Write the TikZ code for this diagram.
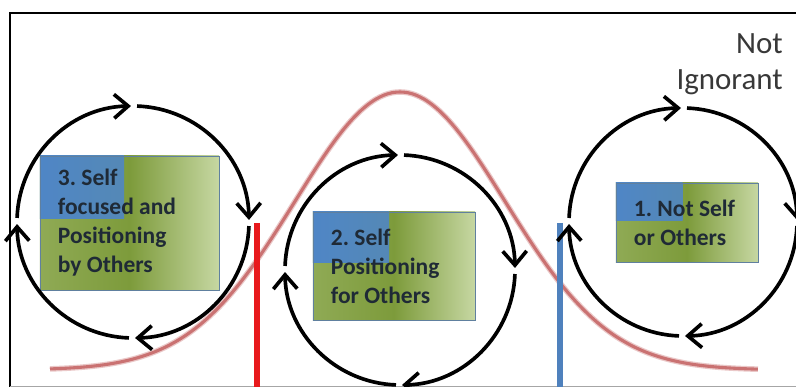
\documentclass[tikz,border=0pt]{standalone}
\usepackage{fontspec}
\setmainfont{Carlito}
\usepackage{tikz}
\usetikzlibrary{arrows.meta,calc}
\definecolor{boxblue}{HTML}{4F86C6}
\definecolor{boxolive}{HTML}{7D9B3B}
\definecolor{boxlight}{HTML}{C6D7A2}
\definecolor{boxedge}{HTML}{60809F}
\definecolor{textdark}{HTML}{1F2A36}
\definecolor{bellred}{HTML}{C46262}
\definecolor{cutred}{HTML}{E8191C}
\definecolor{cutblue}{HTML}{4F81BD}
\tikzstyle{stage} = [rectangle, draw=boxedge, line width=0.6pt, text=textdark, align=flush left, inner xsep=0.45cm, left color=boxolive!75!boxlight, right color=boxlight, middle color=boxolive, font=\frenchspacing\bfseries\fontsize{16.7}{20.6}\selectfont, path picture={\shade[left color=boxblue, right color=boxblue!75!boxolive] (path picture bounding box.north west) rectangle ($(path picture bounding box.north west)!0.47!(path picture bounding box.south east)$);}]
\tikzstyle{corner} = [align=right, inner sep=0pt, text=black!78, font=\fontsize{22}{26.2}\selectfont]
\tikzstyle{arrow} = [line width=2.6pt, ->, >={Straight Barb[length=10pt,width=17pt]}]
\tikzstyle{cut} = [line width=4.3pt]

\begin{document}
\begin{tikzpicture}[x=0.025cm, y=0.025cm]
\useasboundingbox (0,0) rectangle (796,387);

% frame
\draw [line width=1.8pt] (797,374) -- (10,374) -- (10,0);
\draw [black!35, line width=0.6pt] (10,1) -- (797,1);

% bell curve
\draw [bellred!35, line width=4pt] plot [domain=0.5:7.58, samples=90, smooth] ({\x*100},{17+278*exp(-((\x-4)^2)/2.205)});
\draw [bellred!90, line width=2.2pt] plot [domain=0.5:7.58, samples=90, smooth] ({\x*100},{17+278*exp(-((\x-4)^2)/2.205)});

\coordinate (redtop) at (257,164);
\coordinate (redfoot) at (257,0);
\coordinate (bluetop) at (560,164);
\coordinate (bluefoot) at (560,0);
\draw [cut, cutred] (redtop) -- (redfoot);
\draw [cut, cutblue] (bluetop) -- (bluefoot);

\node (selfby) [stage, minimum width=4.475cm, minimum height=3.35cm, text width=3.575cm] at (129.5,164) {3. Self\\focused and\\Positioning\\by Others};
\node (selffor) [stage, minimum width=4.05cm, minimum height=2.7cm, text width=3.15cm] at (394,121) {2. Self\\Positioning\\for Others};
\node (notself) [stage, minimum width=3.55cm, minimum height=1.975cm, text width=2.65cm] at (687,164.5) {1. Not Self\\or Others};

\node (notign) [corner, anchor=north east] at (783,354) {Not\\Ignorant};

\coordinate (ring3) at (133,165);
\coordinate (ring2) at (400,117);
\coordinate (ring1) at (683,165);

\draw [arrow] ([shift={(178:116)}]ring3) arc (178:91:116);
\draw [arrow] ([shift={(88:116)}]ring3) arc (88:1:116);
\draw [arrow] ([shift={(-2:116)}]ring3) arc (-2:-89:116);
\draw [arrow] ([shift={(-92:116)}]ring3) arc (-92:-179:116);

\draw [arrow] ([shift={(178:115)}]ring2) arc (178:91:115);
\draw [arrow] ([shift={(88:115)}]ring2) arc (88:1:115);
\draw [arrow] ([shift={(-2:115)}]ring2) arc (-2:-89:115);
\draw [arrow] ([shift={(-92:115)}]ring2) arc (-92:-179:115);

\draw [arrow] ([shift={(178:114)}]ring1) arc (178:91:114);
\draw [arrow] ([shift={(88:114)}]ring1) arc (88:1:114);
\draw [arrow] ([shift={(-2:114)}]ring1) arc (-2:-89:114);
\draw [arrow] ([shift={(-92:114)}]ring1) arc (-92:-179:114);

\end{tikzpicture}
\end{document}
